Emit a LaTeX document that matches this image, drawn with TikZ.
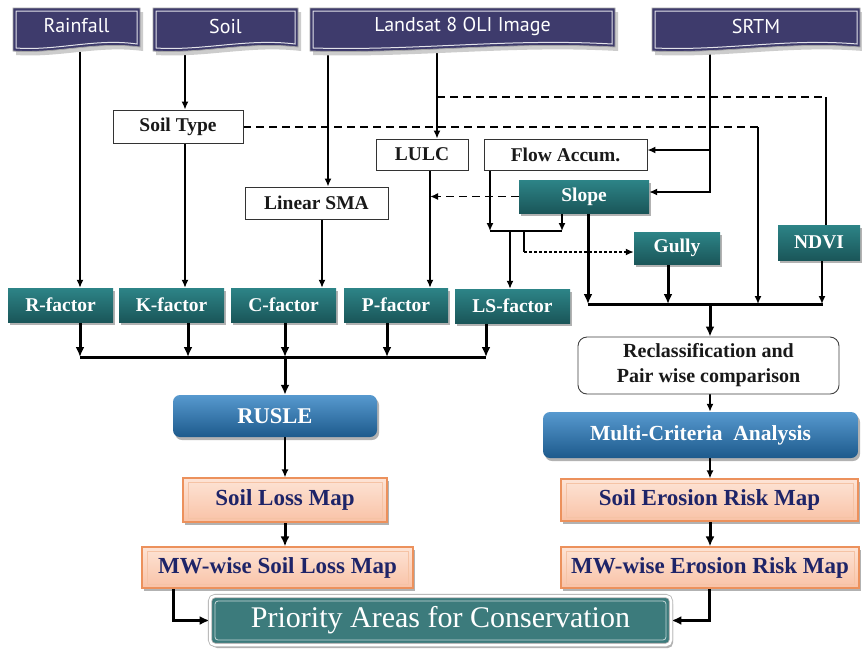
\documentclass[tikz,border=0pt]{standalone}
\usepackage{fontspec}
\setmainfont{Liberation Serif}
\newfontfamily\hdrfont{PT Sans}
\usetikzlibrary{arrows.meta,shadows,calc}
\pgfdeclarelayer{bg}
\pgfsetlayers{bg,main}

\definecolor{hdrc}{HTML}{3E3B6C}
\definecolor{tealT}{HTML}{2D8487}
\definecolor{tealB}{HTML}{1A5659}
\definecolor{blueT}{HTML}{5799CF}
\definecolor{blueB}{HTML}{1D5A8C}
\definecolor{mapT}{HTML}{FDE4D6}
\definecolor{mapB}{HTML}{F9C2A6}
\definecolor{mapD}{HTML}{EC915C}
\definecolor{mapTxt}{HTML}{1E2468}
\definecolor{priF}{HTML}{3C7B7C}

\tikzset{
  every node/.style={inner sep=0pt, align=center},
  myshadow/.style={drop shadow={shadow xshift=2pt,shadow yshift=-3pt,opacity=0.3,fill=black}},
  tealbox/.style={top color=tealT, bottom color=tealB, text=white,
    font=\fontsize{19.5}{21}\selectfont\bfseries, myshadow},
  whitebox/.style={draw=black!80, fill=white, line width=0.9pt,
    font=\fontsize{19.5}{21}\selectfont\bfseries, text=black!90},
  bluebox/.style={top color=blueT, bottom color=blueB, rounded corners=7pt, text=white,
    font=\fontsize{21.5}{23}\selectfont\bfseries, myshadow},
  mapbox/.style={top color=mapT, bottom color=mapB, draw=mapD, line width=1.2pt,
    text=mapTxt, font=\fontsize{23}{25}\selectfont\bfseries, myshadow,
    path picture={\draw[mapD!55!white, line width=0.8pt]
      ([shift={(5pt,4pt)}]path picture bounding box.south west) rectangle
      ([shift={(-5pt,-4pt)}]path picture bounding box.north east);}},
  hdrtext/.style={text=white, font=\hdrfont\fontsize{20}{22}\selectfont},
  lnA/.style={line width=1.5pt, draw=black},
  lnB/.style={line width=3pt, draw=black},
  tipA/.style={-{Latex[length=8pt,width=7pt]}},
  tipB/.style={-{Latex[length=10pt,width=9pt]}},
  dashline/.style={line width=1.6pt, dash pattern=on 8pt off 5pt},
  dotline/.style={line width=2.2pt, dash pattern=on 2.5pt off 2.5pt},
}

\newcommand\hdrshape[2]{%
  \path[fill=black!20] ({#1+3},12) -- ({#2+3},12) -- ({#2+3},51)
    .. controls ({#1+3+0.65*(#2-#1)},45) and ({#1+3+0.35*(#2-#1)},58) .. ({#1+3},55) -- cycle;
  \path[fill=hdrc, draw=black!35, line width=0.8pt] (#1,8) -- (#2,8) -- (#2,47)
    .. controls ({#1+0.65*(#2-#1)},41) and ({#1+0.35*(#2-#1)},54) .. (#1,51) -- cycle;
  \path[draw=white!85!hdrc, line width=1pt] ({#1+3},11) -- ({#2-3},11) -- ({#2-3},44)
    .. controls ({#1+0.65*(#2-#1)},38) and ({#1+0.35*(#2-#1)},51) .. ({#1+3},48) -- cycle;
}

\begin{document}
\begin{tikzpicture}[x=1pt,y=-1pt]
\begin{pgfonlayer}{bg}
  \fill[white] (0,0) rectangle (862,649);
\end{pgfonlayer}
\useasboundingbox (0,0) rectangle (862,649);

% column / junction coordinates
\foreach \xx in {80,173,185,188,285,322,328,387,430,437,486,490,510,562,588,668,709,710,822,823,826}
  {\coordinate (x\xx) at (\xx,0);}
\coordinate (jN) at (437,97);
\coordinate (jT) at (758,127);
\coordinate (jSR) at (710,150);
\coordinate (jB1) at (490,231);
\coordinate (jB2) at (562,231);
\coordinate (jG) at (524,252);
\coordinate (jR) at (588,304);
\coordinate (jL) at (80,357);

% headers
\hdrshape{13}{140}
\hdrshape{153}{298}
\hdrshape{310}{615}
\hdrshape{652}{860}
\node[hdrtext, minimum width=127pt, minimum height=36pt] (rain) at (76.5,26) {Rainfall};
\node[hdrtext, minimum width=145pt, minimum height=36pt] (soil) at (225.5,26) {Soil};
\node[hdrtext, minimum width=305pt, minimum height=36pt] (land) at (462.5,26) {Landsat 8 OLI Image};
\node[hdrtext, minimum width=208pt, minimum height=36pt] (srtm) at (756,26) {SRTM};

% white boxes
\node[whitebox, minimum width=130pt, minimum height=33pt] (stype) at (178,126.5) {Soil Type};
\node[whitebox, minimum width=143pt, minimum height=32pt] (lsma) at (316.5,203) {Linear SMA};
\node[whitebox, minimum width=92pt, minimum height=31pt] (lulc) at (422,154.5) {LULC};
\node[whitebox, minimum width=163pt, minimum height=31pt] (flow) at (565.5,154.5) {Flow Accum.};

% teal boxes
\node[tealbox, minimum width=130pt, minimum height=33pt] (slope) at (584,196.5) {Slope};
\node[tealbox, minimum width=86pt, minimum height=32pt] (gully) at (677,248) {Gully};
\node[tealbox, minimum width=82pt, minimum height=35pt] (ndvi) at (819,242.5) {NDVI};
\node[tealbox, minimum width=105pt, minimum height=34pt] (rf) at (60.5,305) {R-factor};
\node[tealbox, minimum width=105pt, minimum height=34pt] (kf) at (171.5,305) {K-factor};
\node[tealbox, minimum width=105pt, minimum height=34pt] (cf) at (283.5,305) {C-factor};
\node[tealbox, minimum width=104pt, minimum height=34pt] (pf) at (396,305) {P-factor};
\node[tealbox, minimum width=115pt, minimum height=34pt] (lsf) at (512.5,306) {LS-factor};

% process boxes
\node[bluebox, minimum width=204pt, minimum height=42pt, font=\fontsize{22.5}{24}\selectfont\bfseries] (rusle) at (275,416) {RUSLE};
\node[draw=black!75, fill=white, line width=0.9pt, rounded corners=9pt,
      minimum width=261pt, minimum height=57pt,
      font=\fontsize{20}{25}\selectfont\bfseries, text=black!90] (reclass) at (708.5,365.5)
      {Reclassification and\\Pair wise comparison};
\node[bluebox, minimum width=315pt, minimum height=46pt] (mca) at (700.5,435) {Multi-Criteria\ \ Analysis};

% map boxes
\node[mapbox, minimum width=204pt, minimum height=44pt] (slm) at (285,500) {Soil Loss Map};
\node[mapbox, minimum width=271pt, minimum height=41pt] (mwsl) at (277.5,567.5) {MW-wise Soil Loss Map};
\node[mapbox, minimum width=297pt, minimum height=42pt] (serm) at (709.5,500) {Soil Erosion Risk Map};
\node[mapbox, minimum width=298pt, minimum height=41pt] (mwer) at (710,567.5) {MW-wise Erosion Risk Map};

% priority
\node[fill=priF, draw=black!30, double=white, double distance=2.5pt, line width=0.8pt,
      rounded corners=5pt, minimum width=461pt, minimum height=49pt, text=white,
      font=\fontsize{30}{32}\selectfont, myshadow,
      path picture={\draw[white!70!priF, line width=0.8pt, rounded corners=3pt]
      ([shift={(5pt,5pt)}]path picture bounding box.south west) rectangle
      ([shift={(-5pt,-5pt)}]path picture bounding box.north east);}]
      (pri) at (440.5,620.5) {Priority Areas for Conservation};

% connectors
\begin{pgfonlayer}{bg}
  \draw[lnA,tipA] (rain.south -| x80) -- (rf.north -| x80);
  \draw[lnA,tipA] (soil.south -| x185) -- (stype.north -| x185);
  \draw[lnA,tipA] (stype.south -| x185) -- (kf.north -| x185);
  \draw[lnA,tipA] (land.south -| x328) -- (lsma.north -| x328);
  \draw[lnA,tipA] (lsma.south -| x322) -- (cf.north -| x322);
  \draw[lnA,tipA] (land.south -| x437) -- (lulc.north -| x437);
  \draw[lnA,tipA] (lulc.south -| x430) -- (pf.north -| x430);
  \draw[dashline] (jN) -- (jN -| x826);
  \draw[lnA] (jN -| x826) -- (ndvi.north -| x826);
  \draw[dashline] (stype.east |- jT) -- (jT);
  \draw[lnA,tipA] (jT) -- (jR -| jT);
  \draw[lnA,tipA] (srtm.south -| x710) |- (slope.east |- 0,192);
  \draw[lnA,tipA] (jSR) -- (flow.east |- jSR);
  \draw[dashline,tipA] (slope.west) -- (slope.west -| x430);
  \draw[lnA,tipA] (flow.south -| jB1) -- (jB1);
  \draw[lnA,tipA] (slope.south -| jB2) -- (jB2);
  \draw[lnA] (jB1) -- (jB2);
  \draw[lnA,tipA] (jB1 -| x510) -- (lsf.north -| x510);
  \draw[lnA] (jB1 -| jG) -- (jG);
  \draw[dotline,tipA] (jG) -- (gully.west |- jG);
  \draw[lnB,tipB] (slope.south -| jR) -- (jR);
  \draw[lnB,tipB] (gully.south -| x668) -- (jR -| x668);
  \draw[lnA,tipA] (ndvi.south -| x822) -- (jR -| x822);
  \draw[lnB] (jR) -- (jR -| x823);
  \draw[lnB,tipB] (jR -| x710) -- (reclass.north -| x710);
  \draw[lnA,tipA] (reclass.south -| x710) -- (mca.north -| x710);
  % factors
  \draw[lnB,tipB] (rf.south -| x80) -- (jL);
  \draw[lnB,tipB] (kf.south -| x188) -- (jL -| x188);
  \draw[lnB,tipB] (cf.south -| x285) -- (jL -| x285);
  \draw[lnB,tipB] (pf.south -| x387) -- (jL -| x387);
  \draw[lnB,tipB] (lsf.south -| x486) -- (jL -| x486);
  \draw[lnB] (jL) -- (jL -| x486);
  \draw[lnB,tipB] (jL -| x285) -- (rusle.north -| x285);
  \draw[lnA,tipA] (rusle.south -| x285) -- (slm.north -| x285);
  \draw[lnB,tipB] (slm.south -| x285) -- (mwsl.north -| x285);
  \draw[lnB,tipB] (mwsl.south -| x173) |- (pri.west);
  \draw[lnA,tipA] (mca.south -| x710) -- (serm.north -| x710);
  \draw[lnB,tipB] (serm.south -| x710) -- (mwer.north -| x710);
  \draw[lnB,tipB] (mwer.south -| x709) |- (pri.east);
\end{pgfonlayer}
\end{tikzpicture}
\end{document}
